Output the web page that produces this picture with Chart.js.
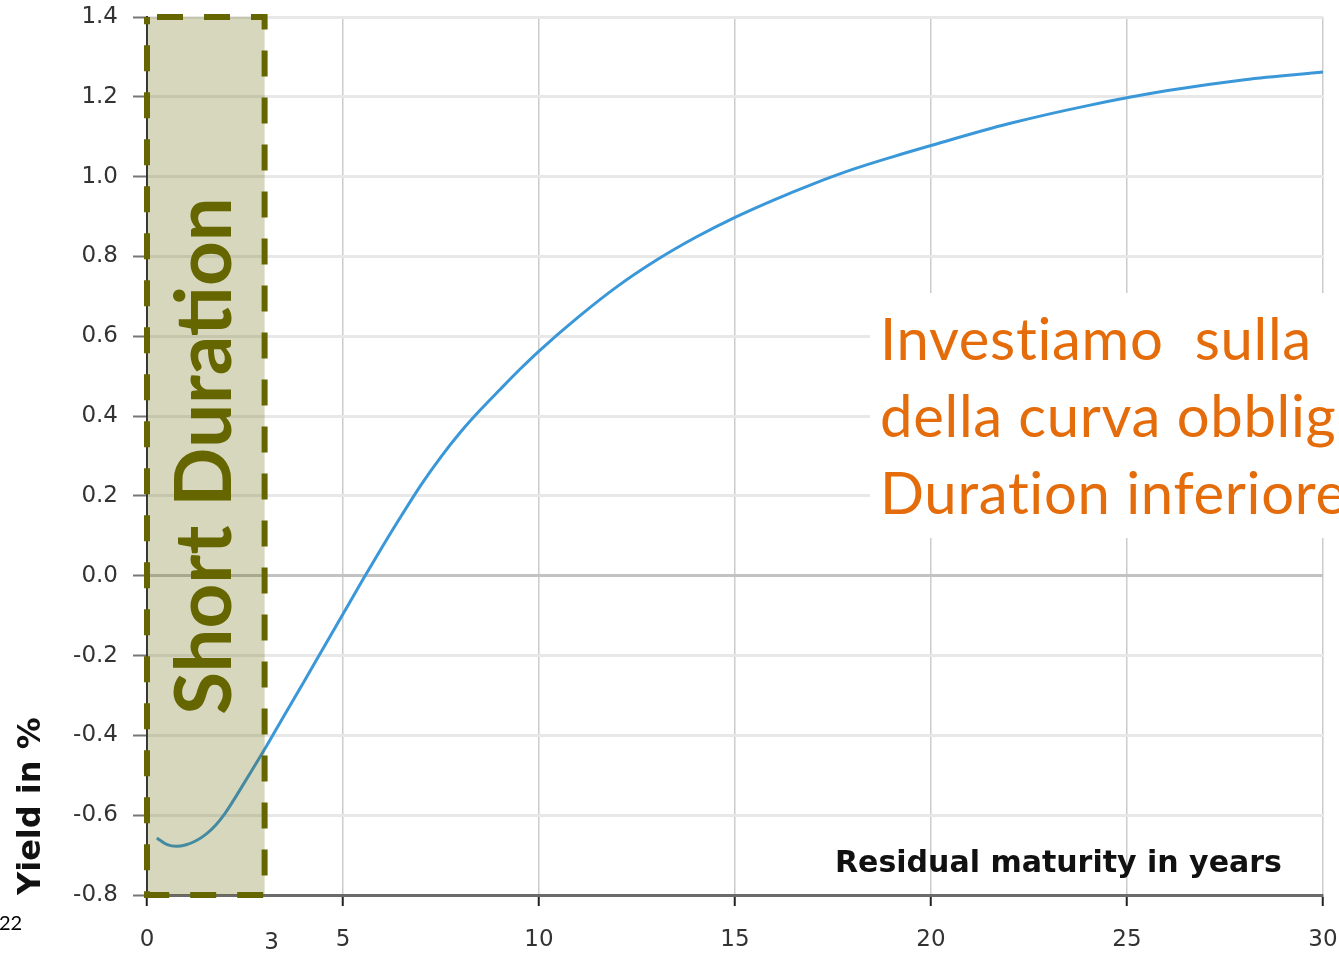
<!DOCTYPE html>
<html>
<head>
<meta charset="utf-8">
<script src="https://cdn.jsdelivr.net/npm/chart.js@4.4.1/dist/chart.umd.min.js"></script>
<style>
  html, body { margin: 0; padding: 0; background: #fff; }
  #chart { display: block; }
</style>
</head>
<body>
<canvas id="chart" width="1339" height="953"></canvas>
<script>
// curva dei rendimenti (anni residui -> rendimento %)
const maturity = [0.25, 0.5, 0.75, 1, 1.25, 1.5, 1.75, 2, 2.5, 3, 3.5, 4, 4.5, 5, 5.5, 6, 6.5, 7, 7.5, 8, 8.5, 9, 9.5, 10, 11, 12, 13, 14, 15, 16, 17, 18, 19, 20, 22, 24, 26, 28, 30];
const yields = [-0.657, -0.673, -0.678, -0.674, -0.664, -0.648, -0.625, -0.594, -0.516, -0.435, -0.35, -0.266, -0.181, -0.096, -0.011, 0.072, 0.152, 0.229, 0.298, 0.36, 0.415, 0.466, 0.516, 0.563, 0.648, 0.725, 0.791, 0.848, 0.898, 0.942, 0.982, 1.018, 1.049, 1.078, 1.133, 1.178, 1.215, 1.243, 1.262];

const xTicks = [0, 5, 10, 15, 20, 25, 30];
const yTicks = [-0.8, -0.6, -0.4, -0.2, 0, 0.2, 0.4, 0.6, 0.8, 1.0, 1.2, 1.4];
const shortRange = [0, 3];
const shortLabel = 'Short Duration';
const noteLines = ['Investiamo  sulla', 'della curva obblig', 'Duration inferiore'];
const xTitle = 'Residual maturity in years';
const yTitle = 'Yield in %';
const slideNumber = '22';

const tickFont = { family: 'DejaVu Sans', size: 23 };
const olive = '#666600';
const orange = '#E46C0A';

const annotations = {
    id: 'annotations',
    afterDatasetsDraw(chart) {
        const { ctx, chartArea, scales: { x, y } } = chart;
        ctx.save();

        // box bianco dietro il testo
        ctx.fillStyle = '#ffffff';
        ctx.fillRect(870, 293, chart.width - 870, 245);

        ctx.fillStyle = orange;
        ctx.font = '58px Lato';
        ctx.letterSpacing = '0.7px';
        ctx.textAlign = 'left';
        ctx.textBaseline = 'alphabetic';
        noteLines.forEach((t, i) => ctx.fillText(t, 880, 360 + i * 77));
        ctx.letterSpacing = '0px';

        // area short duration
        const x0 = x.getPixelForValue(shortRange[0]);
        const x1 = x.getPixelForValue(shortRange[1]);
        const top = y.getPixelForValue(y.max);
        const bottom = y.getPixelForValue(y.min);
        ctx.fillStyle = 'rgba(102,102,0,0.26)';
        ctx.fillRect(x0, top, x1 - x0, bottom - top);

        ctx.strokeStyle = olive;
        ctx.lineWidth = 6;
        ctx.setLineDash([26, 21]);
        ctx.lineDashOffset = 37;
        ctx.strokeRect(x0, top, x1 - x0, bottom - top);
        ctx.setLineDash([]);

        ctx.save();
        ctx.translate((x0 + x1) / 2, 456);
        ctx.rotate(-Math.PI / 2);
        ctx.fillStyle = olive;
        ctx.font = 'bold 78px Lato';
        ctx.textAlign = 'center';
        ctx.textBaseline = 'middle';
        ctx.fillText(shortLabel, 0, 0);
        ctx.restore();

        // titolo asse x dentro il grafico
        ctx.fillStyle = '#111';
        ctx.font = 'bold 30px "DejaVu Sans"';
        ctx.textAlign = 'left';
        ctx.textBaseline = 'alphabetic';
        ctx.fillText(xTitle, 835, chartArea.bottom - 23);

        // etichetta extra "3"
        ctx.fillStyle = '#333';
        ctx.font = '23px "DejaVu Sans"';
        ctx.textAlign = 'center';
        ctx.fillText('3', x1 + 7, 949);

        ctx.fillStyle = '#000';
        ctx.font = '20px Lato';
        ctx.textAlign = 'left';
        ctx.fillText(slideNumber, -1, 930);

        ctx.restore();
    }
};

new Chart(document.getElementById('chart'), {
    type: 'line',
    data: {
        datasets: [{
            data: maturity.map((m, i) => ({ x: m, y: yields[i] })),
            borderColor: '#3a97d8',
            borderWidth: 3,
            pointRadius: 0,
            cubicInterpolationMode: 'monotone',
            fill: false
        }]
    },
    options: {
        responsive: false,
        animation: false,
        layout: { padding: { left: 0, right: 16, top: 17, bottom: 0 } },
        plugins: {
            legend: { display: false },
            tooltip: { enabled: false }
        },
        scales: {
            x: {
                type: 'linear',
                min: 0,
                max: 30,
                afterBuildTicks: s => { s.ticks = xTicks.map(v => ({ value: v })); },
                afterFit: s => { s.height = 58; s.paddingLeft = 0; s.paddingRight = 0; },
                ticks: { font: tickFont, color: '#333', padding: 20, maxRotation: 0 },
                grid: {
                    color: c => (c.tick && c.tick.value === 0) ? 'rgba(0,0,0,0)' : '#cccccc',
                    lineWidth: 1.5,
                    tickColor: '#222',
                    tickWidth: 2,
                    tickLength: 11
                },
                border: { color: '#6b6b6b', width: 3 }
            },
            y: {
                min: -0.8,
                max: 1.4,
                afterBuildTicks: s => { s.ticks = yTicks.map(v => ({ value: v })); },
                afterFit: s => { s.width = 147; s.paddingTop = 0; s.paddingBottom = 0; },
                ticks: {
                    font: tickFont,
                    color: '#333',
                    padding: 15,
                    callback: v => Number(v).toFixed(1)
                },
                grid: {
                    color: c => (c.tick && Math.abs(c.tick.value) < 1e-9) ? '#c2c2c2' : '#e8e8e8',
                    lineWidth: 3,
                    tickColor: '#777',
                    tickWidth: 2,
                    tickLength: 14
                },
                border: { color: '#333', width: 2 },
                title: {
                    display: true,
                    text: yTitle,
                    align: 'start',
                    color: '#111',
                    font: { family: 'DejaVu Sans', size: 32, weight: 'bold' },
                    padding: { top: 12, bottom: 0 }
                }
            }
        }
    },
    plugins: [annotations]
});
</script>
</body>
</html>
